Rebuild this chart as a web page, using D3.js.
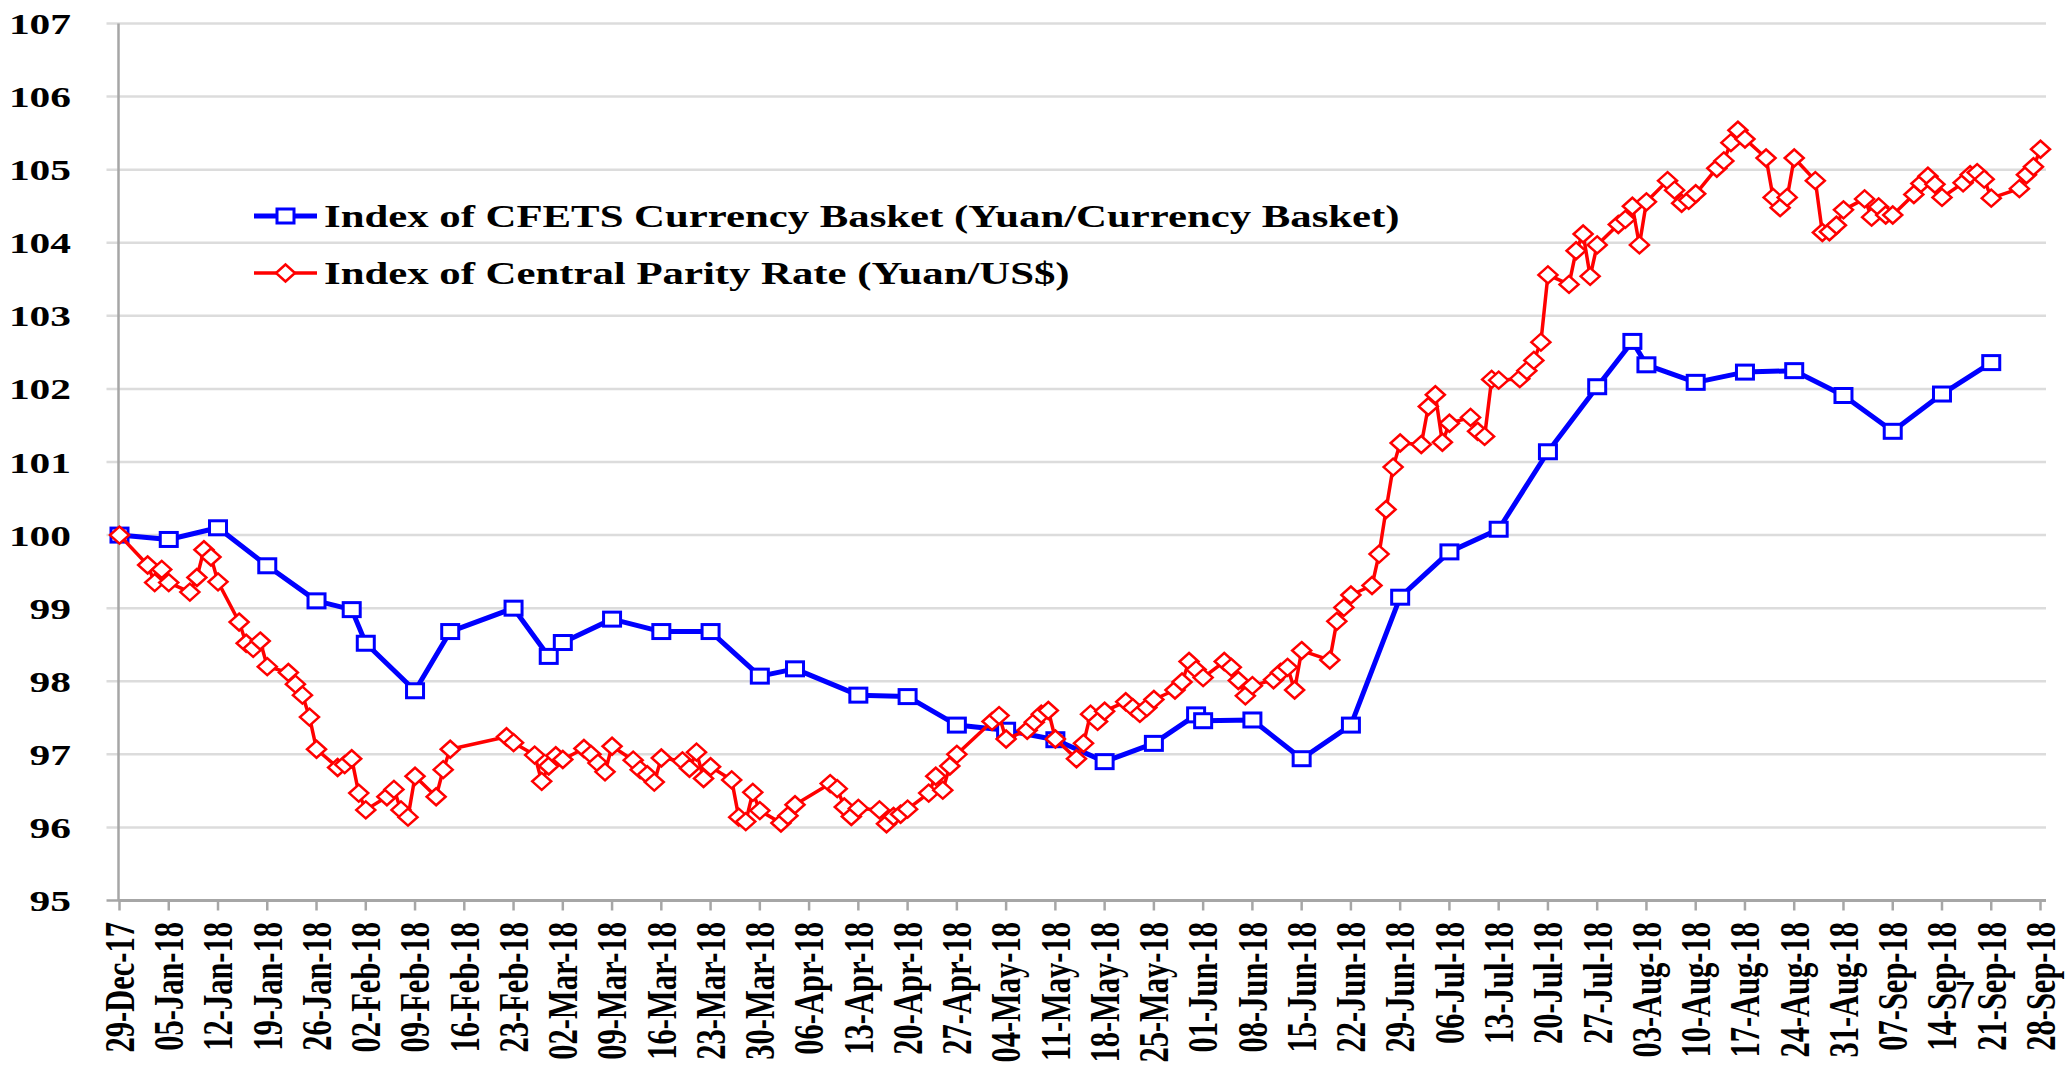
<!DOCTYPE html>
<html><head><meta charset="utf-8">
<script src="https://cdn.jsdelivr.net/npm/d3@7"></script>
<style>html,body{margin:0;padding:0;background:#fff;overflow:hidden}</style>
</head><body>
<svg id="chart" width="2065" height="1069"></svg>
<script>
// ---------------- DATA ----------------
const seriesNames = [
  "Index of CFETS Currency Basket (Yuan/Currency Basket)",
  "Index of Central Parity Rate (Yuan/US$)"
];
const yTickValues = [95, 96, 97, 98, 99, 100, 101, 102, 103, 104, 105, 106, 107];
const xTickLabels = ["29-Dec-17","05-Jan-18","12-Jan-18","19-Jan-18","26-Jan-18","02-Feb-18","09-Feb-18",
  "16-Feb-18","23-Feb-18","02-Mar-18","09-Mar-18","16-Mar-18","23-Mar-18","30-Mar-18","06-Apr-18",
  "13-Apr-18","20-Apr-18","27-Apr-18","04-May-18","11-May-18","18-May-18","25-May-18","01-Jun-18",
  "08-Jun-18","15-Jun-18","22-Jun-18","29-Jun-18","06-Jul-18","13-Jul-18","20-Jul-18","27-Jul-18",
  "03-Aug-18","10-Aug-18","17-Aug-18","24-Aug-18","31-Aug-18","07-Sep-18","14-Sep-18","21-Sep-18","28-Sep-18"];

const basketDates = ["2017-12-29","2018-01-05","2018-01-12","2018-01-19","2018-01-26","2018-01-31","2018-02-02",
  "2018-02-09","2018-02-14","2018-02-23","2018-02-28","2018-03-02","2018-03-09","2018-03-16","2018-03-23",
  "2018-03-30","2018-04-04","2018-04-13","2018-04-20","2018-04-27","2018-05-04","2018-05-11","2018-05-18",
  "2018-05-25","2018-05-31","2018-06-01","2018-06-08","2018-06-15","2018-06-22","2018-06-29","2018-07-06",
  "2018-07-13","2018-07-20","2018-07-27","2018-08-01","2018-08-03","2018-08-10","2018-08-17","2018-08-24",
  "2018-08-31","2018-09-07","2018-09-14","2018-09-21"];
const basketValues = [100.00,99.94,100.10,99.58,99.10,98.98,98.52,
  97.87,98.68,99.00,98.34,98.53,98.85,98.68,98.68,
  98.07,98.17,97.81,97.79,97.40,97.33,97.20,96.90,
  97.15,97.54,97.46,97.47,96.94,97.40,99.15,99.77,
  100.08,101.14,102.03,102.65,102.33,102.09,102.23,102.25,
  101.91,101.42,101.93,102.36];

const parityDates = ["2017-12-29",
  "2018-01-02","2018-01-03","2018-01-04","2018-01-05","2018-01-08","2018-01-09","2018-01-10","2018-01-11","2018-01-12",
  "2018-01-15","2018-01-16","2018-01-17","2018-01-18","2018-01-19","2018-01-22","2018-01-23","2018-01-24","2018-01-25","2018-01-26",
  "2018-01-29","2018-01-30","2018-01-31","2018-02-01","2018-02-02","2018-02-05","2018-02-06","2018-02-07","2018-02-08","2018-02-09",
  "2018-02-12","2018-02-13","2018-02-14","2018-02-22","2018-02-23","2018-02-26","2018-02-27","2018-02-28","2018-03-01","2018-03-02",
  "2018-03-05","2018-03-06","2018-03-07","2018-03-08","2018-03-09","2018-03-12","2018-03-13","2018-03-14","2018-03-15","2018-03-16",
  "2018-03-19","2018-03-20","2018-03-21","2018-03-22","2018-03-23","2018-03-26","2018-03-27","2018-03-28","2018-03-29","2018-03-30",
  "2018-04-02","2018-04-03","2018-04-04","2018-04-09","2018-04-10","2018-04-11","2018-04-12","2018-04-13",
  "2018-04-16","2018-04-17","2018-04-18","2018-04-19","2018-04-20","2018-04-23","2018-04-24","2018-04-25","2018-04-26","2018-04-27",
  "2018-05-02","2018-05-03","2018-05-04","2018-05-07","2018-05-08","2018-05-09","2018-05-10","2018-05-11",
  "2018-05-14","2018-05-15","2018-05-16","2018-05-17","2018-05-18","2018-05-21","2018-05-22","2018-05-23","2018-05-24","2018-05-25",
  "2018-05-28","2018-05-29","2018-05-30","2018-05-31","2018-06-01","2018-06-04","2018-06-05","2018-06-06","2018-06-07","2018-06-08",
  "2018-06-11","2018-06-12","2018-06-13","2018-06-14","2018-06-15","2018-06-19","2018-06-20","2018-06-21","2018-06-22",
  "2018-06-25","2018-06-26","2018-06-27","2018-06-28","2018-06-29","2018-07-02","2018-07-03","2018-07-04","2018-07-05","2018-07-06",
  "2018-07-09","2018-07-10","2018-07-11","2018-07-12","2018-07-13","2018-07-16","2018-07-17","2018-07-18","2018-07-19","2018-07-20",
  "2018-07-23","2018-07-24","2018-07-25","2018-07-26","2018-07-27","2018-07-30","2018-07-31","2018-08-01","2018-08-02","2018-08-03",
  "2018-08-06","2018-08-07","2018-08-08","2018-08-09","2018-08-10","2018-08-13","2018-08-14","2018-08-15","2018-08-16","2018-08-17",
  "2018-08-20","2018-08-21","2018-08-22","2018-08-23","2018-08-24","2018-08-27","2018-08-28","2018-08-29","2018-08-30","2018-08-31",
  "2018-09-03","2018-09-04","2018-09-05","2018-09-06","2018-09-07","2018-09-10","2018-09-11","2018-09-12","2018-09-13","2018-09-14",
  "2018-09-17","2018-09-18","2018-09-19","2018-09-20","2018-09-21","2018-09-25","2018-09-26","2018-09-27","2018-09-28"];
const parityValues = [100.00,
  99.59,99.35,99.53,99.35,99.22,99.42,99.80,99.70,99.36,
  98.81,98.52,98.45,98.55,98.20,98.12,97.96,97.81,97.51,97.07,
  96.82,96.86,96.94,96.47,96.24,96.42,96.52,96.24,96.14,96.70,
  96.42,96.79,97.07,97.24,97.16,96.99,96.63,96.84,96.98,96.93,
  97.08,97.00,96.88,96.76,97.11,96.92,96.79,96.72,96.62,96.95,
  96.91,96.81,97.03,96.67,96.83,96.65,96.14,96.08,96.48,96.23,
  96.06,96.16,96.31,96.60,96.53,96.28,96.15,96.26,
  96.24,96.05,96.15,96.18,96.25,96.47,96.70,96.51,96.84,97.00,
  97.45,97.53,97.21,97.33,97.44,97.55,97.60,97.21,
  96.94,97.15,97.55,97.45,97.59,97.72,97.64,97.56,97.64,97.75,
  97.88,97.99,98.27,98.16,98.05,98.27,98.19,98.01,97.80,97.94,
  98.02,98.12,98.19,97.88,98.42,98.29,98.82,99.01,99.18,
  99.31,99.74,100.35,100.93,101.26,101.24,101.76,101.92,101.27,101.53,
  101.61,101.42,101.35,102.13,102.12,102.14,102.25,102.39,102.64,103.56,
  103.43,103.89,104.12,103.54,103.97,104.25,104.32,104.50,103.97,104.56,
  104.85,104.72,104.54,104.58,104.67,105.02,105.12,105.37,105.54,105.42,
  105.16,104.62,104.48,104.62,105.16,104.85,104.14,104.15,104.24,104.45,
  104.60,104.35,104.49,104.38,104.38,104.66,104.81,104.91,104.80,104.62,
  104.82,104.93,104.96,104.87,104.61,104.74,104.93,105.04,105.28];

// ---------------- LAYOUT ----------------
const SX = 1.38;              // horizontal text stretch seen in the reference
const FONT = "'Liberation Serif','Times New Roman',serif";
const xLeft = 119.5, xRight = 2040.5, yTop = 23.5, yBottom = 900.5, gridRight = 2046;

const parseISO = d3.utcParse("%Y-%m-%d");
const parseTick = d3.utcParse("%d-%b-%y");
const tickDates = xTickLabels.map(parseTick);

const x = d3.scaleUtc().domain([tickDates[0], tickDates[tickDates.length - 1]]).range([xLeft, xRight]);
const y = d3.scaleLinear().domain([95, 107]).range([yBottom, yTop]);

const basket = basketDates.map((d, i) => ({date: parseISO(d), value: basketValues[i]}));
const parity = parityDates.map((d, i) => ({date: parseISO(d), value: parityValues[i]}));

const svg = d3.select("#chart");
svg.append("rect").attr("width", 2065).attr("height", 1069).attr("fill", "#fff");

// gridlines
svg.append("g").selectAll("line").data(yTickValues.filter(v => v !== 95)).join("line")
  .attr("x1", xLeft - 13).attr("x2", gridRight)
  .attr("y1", d => y(d)).attr("y2", d => y(d))
  .attr("stroke", "#dcdcdc").attr("stroke-width", 2.5);

// y axis line
svg.append("line").attr("x1", xLeft - 1).attr("x2", xLeft - 1)
  .attr("y1", yTop).attr("y2", yBottom).attr("stroke", "#a6a6a6").attr("stroke-width", 2.5);
svg.append("line").attr("x1", xLeft - 13).attr("x2", xLeft).attr("y1", y(95)).attr("y2", y(95))
  .attr("stroke", "#a6a6a6").attr("stroke-width", 2.5);

// x axis line + ticks
svg.append("line").attr("x1", xLeft - 1).attr("x2", gridRight)
  .attr("y1", yBottom).attr("y2", yBottom).attr("stroke", "#a6a6a6").attr("stroke-width", 3);
svg.append("g").selectAll("line").data(tickDates).join("line")
  .attr("x1", d => x(d)).attr("x2", d => x(d))
  .attr("y1", yBottom).attr("y2", yBottom + 10)
  .attr("stroke", "#a6a6a6").attr("stroke-width", 2.5);

// y labels
svg.append("g").selectAll("text").data(yTickValues).join("text")
  .attr("transform", d => `translate(71,${y(d) + 10.5}) scale(${SX},1)`)
  .attr("text-anchor", "end")
  .attr("font-family", FONT).attr("font-weight", "bold").attr("font-size", 30)
  .attr("fill", "#000").text(d => d);

// x labels
svg.append("g").selectAll("text").data(tickDates).join("text")
  .attr("transform", d => `translate(${x(d)},922) scale(${SX},1) rotate(-90)`)
  .attr("text-anchor", "end").attr("dy", "0.34em")
  .attr("font-family", FONT).attr("font-weight", "bold").attr("font-size", 30.5)
  .attr("fill", "#000").text((d, i) => xTickLabels[i]);

// lines
const line = d3.line().x(d => x(d.date)).y(d => y(d.value));

const squareMarker = (g, cx, cy) => g.append("rect")
  .attr("x", cx - 8.5).attr("y", cy - 7).attr("width", 17).attr("height", 14)
  .attr("fill", "#fff").attr("stroke", "#0000ff").attr("stroke-width", 3);
const diamondPath = (cx, cy) => `M${cx},${cy - 8.5}L${cx + 9.5},${cy}L${cx},${cy + 8.5}L${cx - 9.5},${cy}Z`;

// basket series
const gB = svg.append("g");
gB.append("path").datum(basket).attr("d", line)
  .attr("fill", "none").attr("stroke", "#0000ff").attr("stroke-width", 5).attr("stroke-linejoin", "round");
gB.selectAll("rect").data(basket).join("rect")
  .attr("x", d => x(d.date) - 8.5).attr("y", d => y(d.value) - 7)
  .attr("width", 17).attr("height", 14)
  .attr("fill", "#fff").attr("stroke", "#0000ff").attr("stroke-width", 3);

// parity series
const gP = svg.append("g");
gP.append("path").datum(parity).attr("d", line)
  .attr("fill", "none").attr("stroke", "#ff0000").attr("stroke-width", 3.5).attr("stroke-linejoin", "round");
gP.selectAll("path.m").data(parity).join("path").attr("class", "m")
  .attr("d", d => diamondPath(x(d.date), y(d.value)))
  .attr("fill", "#fff").attr("stroke", "#ff0000").attr("stroke-width", 2.5);

// legend
const legend = svg.append("g");
const legendRows = [
  {name: seriesNames[0], cy: 216, color: "#0000ff", kind: "square"},
  {name: seriesNames[1], cy: 273, color: "#ff0000", kind: "diamond"}
];
legendRows.forEach(r => {
  legend.append("line").attr("x1", 254).attr("x2", 317).attr("y1", r.cy).attr("y2", r.cy)
    .attr("stroke", r.color).attr("stroke-width", r.kind === "square" ? 5 : 3.5);
  if (r.kind === "square") squareMarker(legend, 285.5, r.cy);
  else legend.append("path").attr("d", diamondPath(285.5, r.cy))
    .attr("fill", "#fff").attr("stroke", r.color).attr("stroke-width", 2.5);
  legend.append("text")
    .attr("transform", `translate(324,${r.cy + 10.5}) scale(${SX},1)`)
    .attr("font-family", FONT).attr("font-weight", "bold").attr("font-size", 31)
    .attr("fill", "#000").text(r.name);
});

// page number
svg.append("text").attr("x", 1955).attr("y", 1008)
  .attr("font-family", "'Liberation Sans',Arial,sans-serif").attr("font-size", 37)
  .attr("fill", "#000").text("7");
</script>
</body></html>
